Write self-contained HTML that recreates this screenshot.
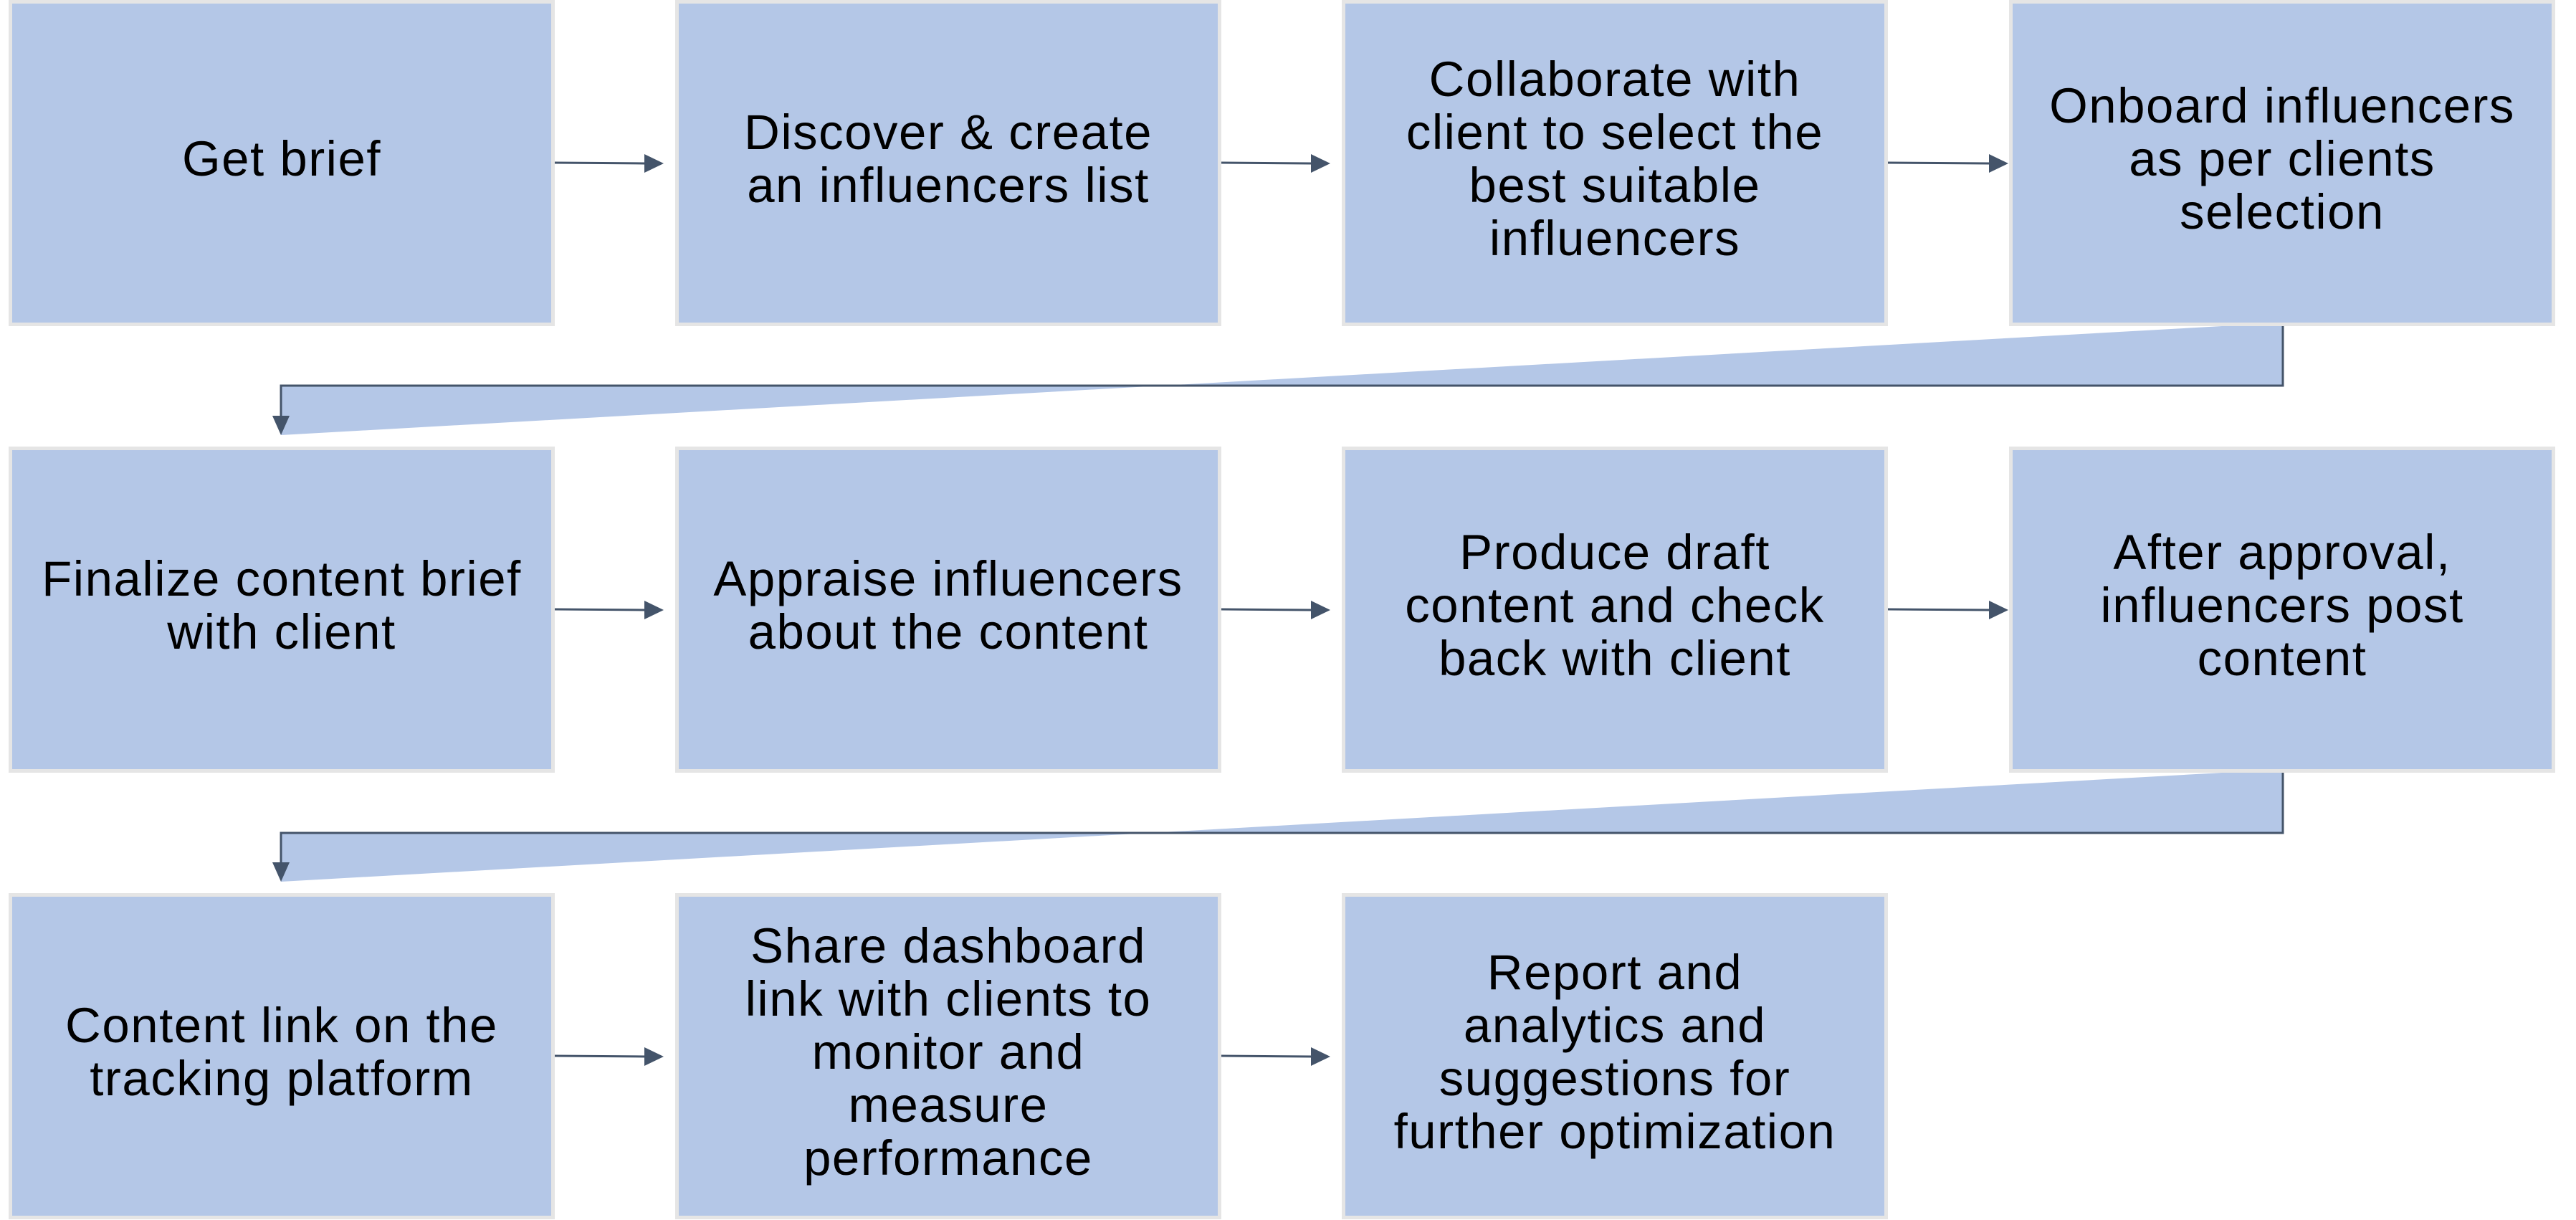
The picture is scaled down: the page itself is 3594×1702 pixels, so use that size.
<!DOCTYPE html>
<html><head><meta charset="utf-8"><style>
html,body{margin:0;padding:0;background:#fff;}
body{width:3594px;height:1702px;position:relative;overflow:hidden;font-family:"Liberation Sans",sans-serif;}
.b{position:absolute;box-sizing:content-box;width:752px;height:433px;padding-bottom:12px;border:5px solid #e5e5e5;background:#b4c7e7;display:flex;align-items:center;justify-content:center;text-align:center;font-size:69px;line-height:74px;color:#000;white-space:nowrap;letter-spacing:1.5px;}
svg{position:absolute;left:0;top:0;}
</style></head><body>
<svg width="3594" height="1702">
<g fill="#b4c7e7">
<polygon points="3185,455 3185,538 392,538 392,607 3100,455"/>
<polygon points="3185,1078 3185,1162 392,1162 392,1230 3100,1078"/>
</g>
<g stroke="#44546a" stroke-width="3" fill="none">
<polyline points="3185,455 3185,538 392,538 392,580"/>
<polyline points="3185,1078 3185,1162 392,1162 392,1203"/>
</g>
<path d="M380,580 L404,580 L392,607 z" fill="#44546a"/>
<path d="M380,1203 L404,1203 L392,1230 z" fill="#44546a"/>
<g stroke="#44546a" stroke-width="3">
<line x1="774" y1="227" x2="900" y2="228"/><line x1="1704" y1="227" x2="1830" y2="228"/><line x1="2634" y1="227" x2="2776" y2="228"/>
<line x1="774" y1="850" x2="900" y2="851"/><line x1="1704" y1="850" x2="1830" y2="851"/><line x1="2634" y1="850" x2="2776" y2="851"/>
<line x1="774" y1="1473" x2="900" y2="1474"/><line x1="1704" y1="1473" x2="1830" y2="1474"/>
</g>
<g fill="#44546a">
<path d="M899,215 L926,228 L899,241z"/><path d="M1829,215 L1856,228 L1829,241z"/><path d="M2775,215 L2802,228 L2775,241z"/>
<path d="M899,838 L926,851 L899,864z"/><path d="M1829,838 L1856,851 L1829,864z"/><path d="M2775,838 L2802,851 L2775,864z"/>
<path d="M899,1461 L926,1474 L899,1487z"/><path d="M1829,1461 L1856,1474 L1829,1487z"/>
</g>
</svg>
<div class="b" style="left:12px;top:0">Get brief</div>
<div class="b" style="left:942px;top:0">Discover &amp; create<br>an influencers list</div>
<div class="b" style="left:1872px;top:0">Collaborate with<br>client to select the<br>best suitable<br>influencers</div>
<div class="b" style="left:2803px;top:0">Onboard influencers<br>as per clients<br>selection</div>
<div class="b" style="left:12px;top:623px">Finalize content brief<br>with client</div>
<div class="b" style="left:942px;top:623px">Appraise influencers<br>about the content</div>
<div class="b" style="left:1872px;top:623px">Produce draft<br>content and check<br>back with client</div>
<div class="b" style="left:2803px;top:623px">After approval,<br>influencers post<br>content</div>
<div class="b" style="left:12px;top:1246px">Content link on the<br>tracking platform</div>
<div class="b" style="left:942px;top:1246px">Share dashboard<br>link with clients to<br>monitor and<br>measure<br>performance</div>
<div class="b" style="left:1872px;top:1246px">Report and<br>analytics and<br>suggestions for<br>further optimization</div>
</body></html>
